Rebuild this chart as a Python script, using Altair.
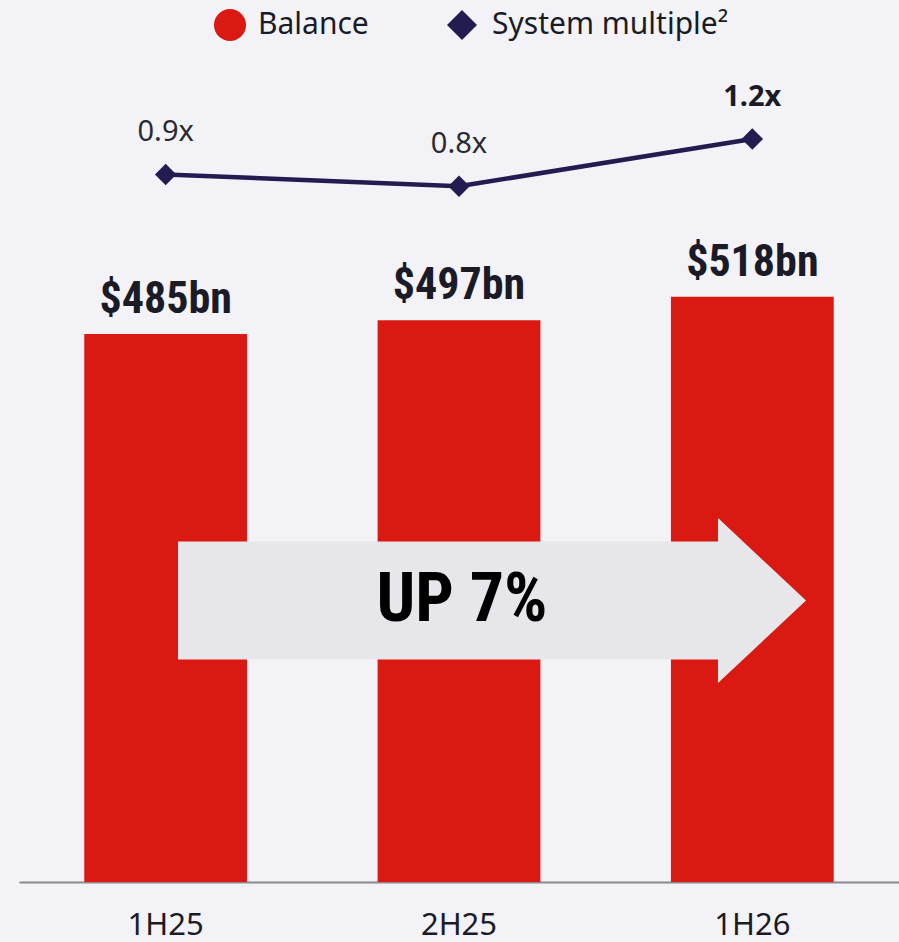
import altair as alt
import pandas as pd

# Half-year periods, deposit balance ($bn) and system growth multiple
periods = ["1H25", "2H25", "1H26"]
balance_bn = [485, 497, 518]
balance_labels = ["$485bn", "$497bn", "$518bn"]
system_multiple = [0.9, 0.8, 1.2]
multiple_labels = ["0.9x", "0.8x", "1.2x"]
callout = "UP 7%"

RED = "#da1912"
NAVY = "#221c50"
BG = "#f3f3f7"
ARROW = "#e7e6eb"
INK = "#1b1b28"
SANS = "Noto Sans"
NARROW = "Roboto Condensed, Open Sans Condensed, Noto Sans Condensed, DejaVu Sans Condensed, sans-serif"

df = pd.DataFrame({
    "period": periods,
    "balance": balance_bn,
    "balance_label": balance_labels,
    "multiple": system_multiple,
    "multiple_label": multiple_labels,
})

x = alt.X(
    "period:N",
    sort=periods,
    title=None,
    scale=alt.Scale(paddingInner=0.445, paddingOuter=0.2225),
    axis=alt.Axis(
        labelAngle=0,
        labelFont=SANS,
        labelFontSize=31,
        labelColor=INK,
        labelPadding=28,
        ticks=False,
        domainColor="#8a8a8e",
        domainWidth=2,
    ),
)

y_bal = alt.Y("balance:Q", axis=None, scale=alt.Scale(domain=[0, 727.4]))
y_mult = alt.Y("multiple:Q", axis=None, scale=alt.Scale(domain=[-5.096, 1.87]))

base = alt.Chart(df)

bars = base.mark_bar(color=RED).encode(x=x, y=y_bal)

# Growth arrow drawn as one custom symbol (1 path unit = 100 px at size 40000)
arrow_path = ("M -3.14 -0.59 L 2.26 -0.59 L 2.26 -0.825 L 3.14 0 "
              "L 2.26 0.825 L 2.26 0.59 L -3.14 0.59 Z")
one = pd.DataFrame({"k": [0]})
arrow = alt.Chart(one).mark_point(
    shape=arrow_path, filled=True, fill=ARROW, opacity=1, strokeWidth=0, size=40000
).encode(x=alt.value(473), y=alt.value(540.5))

arrow_text = alt.Chart(one).mark_text(
    text=callout, font=NARROW, fontWeight="bold", fontSize=68, color="#000000",
    align="center", baseline="middle",
).encode(x=alt.value(443), y=alt.value(541))

bar_labels = base.mark_text(
    font=NARROW, fontWeight="bold", fontSize=44, color=INK,
    align="center", baseline="alphabetic", dy=-21,
).encode(x=x, y=y_bal, text="balance_label:N")

balance_layer = alt.layer(bars, arrow, arrow_text, bar_labels)

line = base.mark_line(color=NAVY, strokeWidth=4.5).encode(x=x, y=y_mult)
points = base.mark_point(
    shape="diamond", filled=True, color=NAVY, opacity=1, size=460
).encode(x=x, y=y_mult)
mult_labels = base.mark_text(
    font=SANS, fontSize=29, color="#2a2a33", align="center",
    baseline="alphabetic", dy=-33,
).encode(x=x, y=y_mult, text="multiple_label:N").transform_filter(
    alt.datum.period != periods[-1]
)
mult_label_last = base.mark_text(
    font=SANS, fontSize=29, fontWeight="bold", color=INK, align="center",
    baseline="alphabetic", dy=-33,
).encode(x=x, y=y_mult, text="multiple_label:N").transform_filter(
    alt.datum.period == periods[-1]
)

multiple_layer = alt.layer(line, points, mult_labels, mult_label_last)

# Legend row above the plot
leg_circle = alt.Chart(one).mark_point(
    shape="circle", filled=True, color=RED, opacity=1, size=1024
).encode(x=alt.value(211), y=alt.value(-35))
leg_circle_text = alt.Chart(one).mark_text(
    text="Balance", font=SANS, fontSize=30, color=INK, align="left", baseline="middle"
).encode(x=alt.value(239), y=alt.value(-35))
leg_diamond = alt.Chart(one).mark_point(
    shape="diamond", filled=True, color=NAVY, opacity=1, size=900
).encode(x=alt.value(443), y=alt.value(-35))
leg_diamond_text = alt.Chart(one).mark_text(
    text="System multiple²", font=SANS, fontSize=30, color=INK, align="left",
    baseline="middle",
).encode(x=alt.value(473), y=alt.value(-35))

legend = alt.layer(leg_circle, leg_circle_text, leg_diamond, leg_diamond_text)

chart = (
    alt.layer(balance_layer, multiple_layer, legend)
    .resolve_scale(y="independent")
    .properties(
        width=880,
        height=822,
        background=BG,
        padding={"left": 19, "top": 60, "right": 0, "bottom": 60},
        autosize=alt.AutoSizeParams(type="none"),
    )
    .configure_view(stroke=None)
)

chart.save("out.html", embed_options={"renderer": "svg", "actions": False})
